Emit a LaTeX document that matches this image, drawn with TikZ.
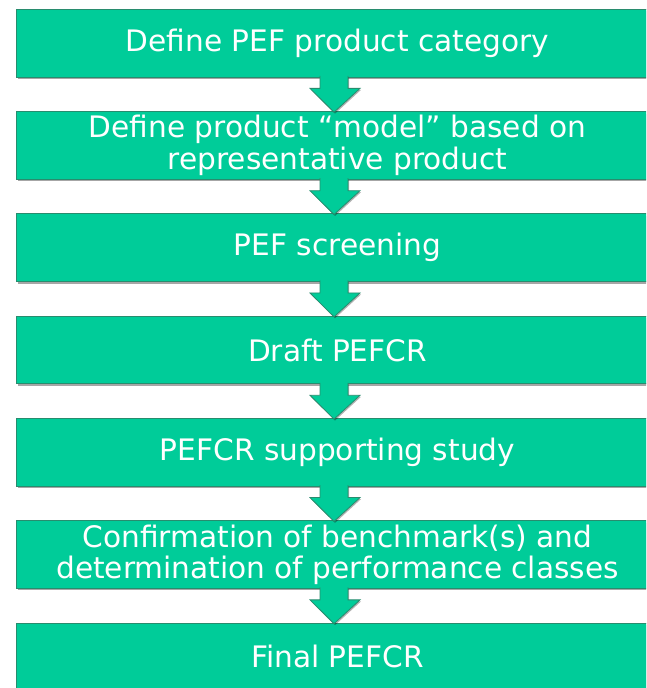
\documentclass[tikz,border=0pt]{standalone}
\usepackage{fontspec}
\setmainfont{DejaVu Sans}
\usetikzlibrary{shadows}
\definecolor{pefgreen}{RGB}{0,204,153}
\definecolor{pefedge}{RGB}{40,140,110}
\tikzset{
  stepbox/.style={rectangle, fill=pefgreen, draw=pefedge, line width=0.8pt,
    minimum width=642pt, minimum height=67.7pt, inner sep=0pt,
    text=white, align=center,
    font=\fontsize{29.6}{31.5}\selectfont,
    drop shadow={shadow xshift=1.2pt, shadow yshift=-2pt, fill=black, opacity=0.35}},
  flowarr/.style={fill=pefgreen, draw=pefedge, line width=0.8pt, line join=miter,
    drop shadow={shadow xshift=1pt, shadow yshift=-1.5pt, fill=black, opacity=0.3}}
}
\newcommand{\flowarrow}[2]{%
  \filldraw[flowarr] ([xshift=-17.5pt,yshift=1.5pt]#1.south) --
    ([xshift=-17.5pt,yshift=-11pt]#1.south) --
    ([xshift=-27.5pt,yshift=-11pt]#1.south) --
    ([xshift=-3.5pt,yshift=-1pt]#2.north) --
    ([xshift=22.5pt,yshift=-11pt]#1.south) --
    ([xshift=10.5pt,yshift=-11pt]#1.south) --
    ([xshift=10.5pt,yshift=1.5pt]#1.south);}
\begin{document}
\begin{tikzpicture}[x=1pt,y=1pt]
\useasboundingbox (0,0) rectangle (646,688);
\clip (0,0) rectangle (646,688);
\fill[white] (0,0) rectangle (646,688);
\node[stepbox] (b1) at (337.5,644.85) {Define PEF product category};
\node[stepbox] (b2) at (337.5,542.55) {Define product “model” based on\\representative product};
\node[stepbox] (b3) at (337.5,440.25) {PEF screening};
\node[stepbox] (b4) at (337.5,337.95) {Draft PEFCR};
\node[stepbox] (b5) at (337.5,235.65) {PEFCR supporting study};
\node[stepbox] (b6) at (337.5,133.35) {Confirmation of benchmark(s) and\\determination of performance classes};
\node[stepbox] (b7) at (337.5,31.05) {Final PEFCR};
\flowarrow{b1}{b2}
\flowarrow{b2}{b3}
\flowarrow{b3}{b4}
\flowarrow{b4}{b5}
\flowarrow{b5}{b6}
\flowarrow{b6}{b7}
\end{tikzpicture}
\end{document}
